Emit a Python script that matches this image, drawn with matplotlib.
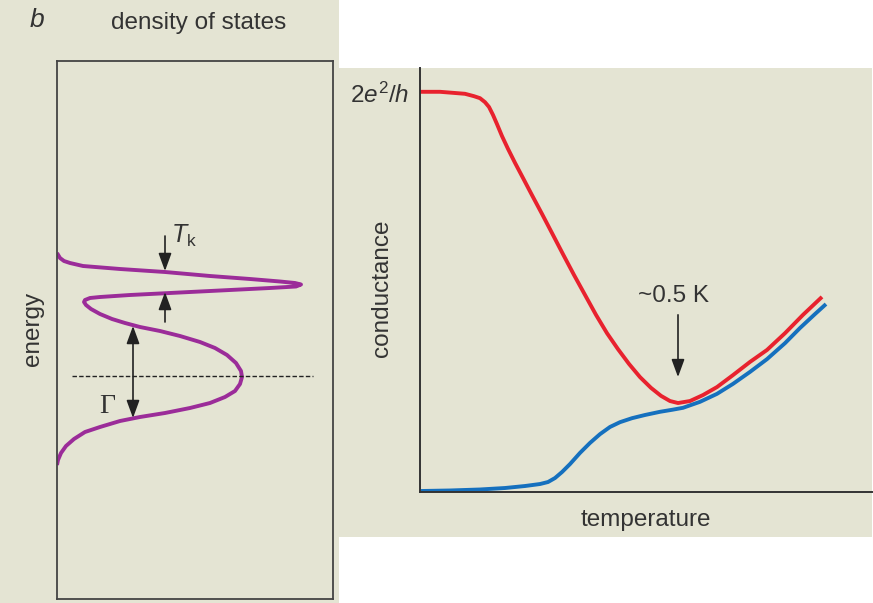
import matplotlib
matplotlib.use("Agg")
import matplotlib.pyplot as plt
from matplotlib.patches import Rectangle

plt.rcParams['font.family'] = ['Liberation Sans', 'DejaVu Sans']
plt.rcParams['mathtext.fontset'] = 'custom'
plt.rcParams['mathtext.rm'] = 'Liberation Sans'
plt.rcParams['mathtext.it'] = 'Liberation Sans:italic'

# ---------------- data ----------------
# Left panel: density of states vs energy (arbitrary units, E=0 at dashed line)
dos_energy = [123, 118, 115, 113, 110, 107, 104, 100, 97, 94.5, 93, 91.5,
              89.5, 88, 86, 83.5, 81, 79, 78, 76, 74, 71, 67, 62, 57, 53, 49,
              45, 40, 34, 28, 21, 13, 5, -1, -8, -15, -21, -27, -32, -37, -41,
              -45, -51, -56, -63, -70, -77, -84, -89]
dos_value = [0, 3, 7, 13, 26, 63, 108, 153, 193, 223, 238, 244,
             239, 213, 173, 123, 73, 43, 33, 28, 27, 29, 34, 43, 55, 68, 83,
             103, 123, 143, 158, 170, 179, 184, 185, 183, 178, 168, 153, 133, 108, 83,
             63, 43, 28, 17, 9, 4, 1, 0]

# Right panel: conductance (units of 2e^2/h) vs temperature (arbitrary units)
red_T = [0, 20, 35, 45, 54, 60, 65, 69, 73, 77, 82, 88, 95, 103, 112, 122, 132,
         143, 154, 165, 176, 187, 198, 209, 220, 231, 241, 250, 258,
         270, 283, 297, 313, 330, 347, 365, 383, 402]
red_G = [1.003, 1.003, 1.000, 0.998, 0.992, 0.987, 0.977, 0.965, 0.945, 0.922,
         0.892, 0.860, 0.825, 0.787, 0.744, 0.697, 0.649, 0.596, 0.544, 0.494,
         0.444, 0.398, 0.358, 0.321, 0.288, 0.261, 0.241, 0.228, 0.223,
         0.228, 0.243, 0.263, 0.293, 0.326, 0.356, 0.398, 0.444, 0.489]
blue_T = [1, 30, 60, 85, 105, 120, 128, 135, 142, 150, 160, 170, 180, 190, 200,
          212, 225, 240, 252, 263, 280, 297, 313, 330, 347, 365, 380, 395, 406]
blue_G = [0.0025, 0.0038, 0.0063, 0.010, 0.015, 0.020, 0.025, 0.035, 0.050,
          0.070, 0.098, 0.123, 0.145, 0.163, 0.175, 0.185, 0.193, 0.201, 0.206,
          0.211, 0.226, 0.246, 0.271, 0.301, 0.333, 0.373, 0.411, 0.446, 0.471]

ytick_labels = [r'$2e^2/h$']

# ---------------- styling ----------------
W, H = 873, 603
BEIGE = '#E4E4D3'
TXT = '#333333'
PURPLE = '#9B2C99'
RED = '#E8222E'
BLUE = '#1570BE'
LBL = 17.5

fig = plt.figure(figsize=(W / 100, H / 100), dpi=100)
fig.patch.set_facecolor('white')

# background panels
fig.patches.append(Rectangle((0, 0), 339 / W, 1, transform=fig.transFigure,
                             facecolor=BEIGE, edgecolor='none', zorder=-10))
fig.patches.append(Rectangle((339 / W, (H - 537) / H), (872 - 339) / W, (537 - 68) / H,
                             transform=fig.transFigure, facecolor=BEIGE,
                             edgecolor='none', zorder=-10))

# ---------------- left panel ----------------
ax1 = fig.add_axes([57 / W, (H - 599) / H, (333 - 57) / W, (599 - 61) / H])
ax1.set_facecolor('none')
ax1.set_xlim(0, 276)
ax1.set_ylim(-223, 315)
ax1.set_xticks([])
ax1.set_yticks([])
for s in ax1.spines.values():
    s.set_color('#444444')
    s.set_linewidth(1.3)

ax1.plot(dos_value, dos_energy, color=PURPLE, lw=2.8, solid_capstyle='butt',
         solid_joinstyle='round')
ax1.axhline(0, xmin=15 / 276, xmax=256 / 276, color='#222222', lw=1.0,
            linestyle=(0, (3.2, 1.6)))

arrow_kw = dict(arrowstyle='-|>,head_length=0.6,head_width=0.22', color='#222222',
                lw=1.2, shrinkA=0, shrinkB=0, mutation_scale=18)
ax1.annotate('', xy=(108, 105), xytext=(108, 140), arrowprops=arrow_kw)
ax1.annotate('', xy=(108, 84), xytext=(108, 54), arrowprops=arrow_kw)
ax1.annotate('', xy=(76, -42), xytext=(76, 50),
             arrowprops=dict(arrowstyle='<|-|>,head_length=0.6,head_width=0.22',
                             color='#222222', lw=1.2, shrinkA=0, shrinkB=0,
                             mutation_scale=18))
ax1.text(114, 133, r'$T_{\mathrm{k}}$', fontsize=18, color=TXT, ha='left', va='baseline')
ax1.text(42, -37, 'Γ', fontsize=20, color=TXT, ha='left', va='baseline',
         family=['Liberation Serif', 'DejaVu Serif'])

fig.text(199 / W, 1 - 29 / H, 'density of states', fontsize=LBL, color=TXT,
         ha='center', va='baseline')
fig.text(30 / W, 1 - 27 / H, 'b', fontsize=19, color=TXT, ha='left', va='baseline',
         style='italic')
fig.text(33 / W, 1 - 329 / H, 'energy', fontsize=LBL, color=TXT, ha='center',
         va='center', rotation=90)

# ---------------- right panel ----------------
ax2 = fig.add_axes([420 / W, (H - 492) / H, (872 - 420) / W, (492 - 68) / H])
ax2.set_facecolor('none')
ax2.set_xlim(0, 452)
ax2.set_ylim(0, 424 / 399)
for side in ('top', 'right'):
    ax2.spines[side].set_visible(False)
for side in ('left', 'bottom'):
    ax2.spines[side].set_color('#333333')
    ax2.spines[side].set_linewidth(1.4)
ax2.set_xticks([])
ax2.set_yticks([1.0])
ax2.set_yticklabels(ytick_labels)
ax2.tick_params(axis='y', length=0, pad=8, labelsize=17.5, labelcolor=TXT)

ax2.plot(red_T, red_G, color=RED, lw=2.8, solid_capstyle='butt',
         solid_joinstyle='round')
ax2.plot(blue_T, blue_G, color=BLUE, lw=2.8, solid_capstyle='butt',
         solid_joinstyle='round')

ax2.annotate('', xy=(258, 0.288), xytext=(258, 0.444), arrowprops=arrow_kw)
ax2.text(254, 0.476, '~0.5 K', fontsize=LBL, color=TXT, ha='center', va='baseline')

ax2.set_xlabel('temperature', fontsize=LBL, color=TXT, labelpad=12)
ax2.text(-0.085, 0.48, 'conductance', transform=ax2.transAxes, fontsize=LBL,
         color=TXT, ha='center', va='center', rotation=90)

fig.savefig('out.png', dpi=100, facecolor=fig.get_facecolor())
